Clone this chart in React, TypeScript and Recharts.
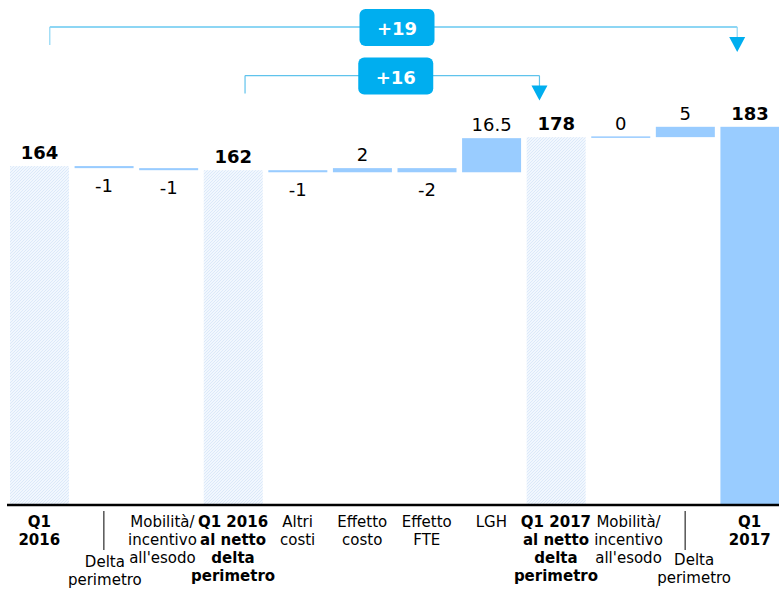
import { BarChart, Bar, XAxis, YAxis, Cell, LabelList, ReferenceLine } from "recharts";

// categories of the waterfall, line-broken as in the axis
const categories = [
  "Q1\n2016",
  "Delta\nperimetro",
  "Mobilità/\nincentivo\nall'esodo",
  "Q1 2016\nal netto\ndelta\nperimetro",
  "Altri\ncosti",
  "Effetto\ncosto",
  "Effetto\nFTE",
  "LGH",
  "Q1 2017\nal netto\ndelta\nperimetro",
  "Mobilità/\nincentivo\nall'esodo",
  "Delta\nperimetro",
  "Q1\n2017",
];
const values = [164, -1, -1, 162, -1, 2, -2, 16.5, 178, 0, 5, 183];
const valueLabels = ["164", "-1", "-1", "162", "-1", "2", "-2", "16.5", "178", "0", "5", "183"];
const isTotal = [true, false, false, true, false, false, false, false, true, false, false, true];

// comparison brackets: from category, to category, label
const brackets = [
  { from: 0, to: 11, label: "+19", level: 231.3 },
  { from: 3, to: 8, label: "+16", level: 207.8 },
];

const FONT = "Verdana, 'DejaVu Sans', sans-serif";
const BLUE = "#99CCFF";

// build stacked waterfall rows
let running = 0;
const data = categories.map((name, i) => {
  const v = values[i];
  let base = 0;
  let size = v;
  if (isTotal[i]) {
    running = v;
  } else {
    const next = running + v;
    base = Math.min(running, next);
    size = Math.abs(v);
    running = next;
  }
  return { key: `c${i}`, name, base, size };
});

// label placement tweaks (pixels)
const tickStyle: Record<number, { dx?: number; drop?: number }> = {
  1: { dx: 1, drop: 62 },
  2: { dx: -6 },
  9: { dx: 8 },
  10: { dx: 9, drop: 60 },
};

const CategoryTick = (props: any) => {
  const { x, y, payload } = props;
  const i = Number(String(payload.value).slice(1));
  const lines = categories[i].split("\n");
  const st = tickStyle[i] || {};
  const dx = st.dx || 0;
  const top = st.drop != null ? st.drop : 22;
  return (
    <g>
      {st.drop != null && (
        <line x1={x} x2={x} y1={y + 6} y2={y + 45} stroke="#000" strokeWidth={1} />
      )}
      {lines.map((l, k) => (
        <text
          key={k}
          x={x + dx}
          y={y + top + k * 18}
          textAnchor="middle"
          fontFamily={FONT}
          fontSize={15}
          fontWeight={isTotal[i] ? "bold" : "normal"}
          fill="#000"
        >
          {l}
        </text>
      ))}
    </g>
  );
};

const BarShape = (props: any) => {
  const { x, y, width, height, fill } = props;
  const h = Math.max(height, 1.5);
  const yy = height < 1.5 ? y - (h - height) / 2 : y;
  return <rect x={x} y={yy} width={width} height={h} fill={fill} />;
};

const ValueLabel = (props: any) => {
  const { x, y, width, height, index } = props;
  const below = values[index] < 0;
  const ty = below ? y + height + 24 : y - 7;
  return (
    <text
      x={x + width / 2}
      y={ty}
      textAnchor="middle"
      fontFamily={FONT}
      fontSize={18}
      fontWeight={isTotal[index] ? "bold" : "normal"}
      fill="#000"
    >
      {valueLabels[index]}
    </text>
  );
};

const bracketShape = (label: string, thick: boolean, dl: number, dr: number) => (props: any) => {
  const { x1, y1, x2 } = props;
  const xl = x1 + dl;
  const xr = x2 + dr;
  const y = y1;
  const cx = (xl + xr) / 2 + 3.5;
  const stroke = thick ? "#8DD6F4" : "#5FC3EC";
  return (
    <g>
      <line x1={xl} x2={xr} y1={y} y2={y} stroke={stroke} strokeWidth={thick ? 2 : 1.2} />
      <line x1={xl} x2={xl} y1={y} y2={y + 18} stroke={stroke} strokeWidth={1.2} />
      <line x1={xr} x2={xr} y1={y} y2={y + 11} stroke={stroke} strokeWidth={1.2} />
      <polygon points={`${xr - 8},${y + 10} ${xr + 8},${y + 10} ${xr},${y + 25}`} fill="#00AEEF" />
      <rect x={cx - 37.5} y={y - 18} width={75} height={37} rx={6} fill="#00AEEF" />
      <text
        x={cx}
        y={y + 8}
        textAnchor="middle"
        fontFamily={FONT}
        fontSize={18}
        fontWeight="bold"
        fill="#fff"
      >
        {label}
      </text>
    </g>
  );
};

const offsets = [
  [10.5, -12.5],
  [12, -16.5],
];

export default function App() {
  return (
    <div style={{ position: "absolute", left: 0, top: 0, width: 779, height: 590, overflow: "hidden", background: "#fff" }}>
      <BarChart
        width={790}
        height={590}
        data={data}
        margin={{ top: 9, right: 8, left: 7, bottom: 0 }}
        barSize={59}
      >
        <defs>
          <pattern id="hatch" width="3" height="3" patternUnits="userSpaceOnUse">
            <rect width="3" height="3" fill="#F1F7FE" />
            <path d="M0,3 l3,-3" stroke="#D9E8F8" strokeWidth={0.9} />
          </pattern>
        </defs>
        <XAxis
          dataKey="key"
          interval={0}
          height={85}
          tickLine={false}
          tickSize={0}
          tickMargin={0}
          axisLine={{ stroke: "#000", strokeWidth: 2.5 }}
          tick={<CategoryTick />}
        />
        <YAxis hide domain={[0, 240]} />
        <Bar dataKey="base" stackId="w" fill="transparent" isAnimationActive={false} />
        <Bar dataKey="size" stackId="w" isAnimationActive={false} shape={<BarShape />}>
          {data.map((d, i) => (
            <Cell key={d.key} fill={isTotal[i] && i !== 11 ? "url(#hatch)" : BLUE} />
          ))}
          <LabelList dataKey="size" content={<ValueLabel />} />
        </Bar>
        {brackets.map((b, k) => (
          <ReferenceLine
            key={b.label}
            segment={[
              { x: `c${b.from}`, y: b.level },
              { x: `c${b.to}`, y: b.level },
            ]}
            ifOverflow="visible"
            shape={bracketShape(b.label, k === 0, offsets[k][0], offsets[k][1])}
          />
        ))}
      </BarChart>
    </div>
  );
}
